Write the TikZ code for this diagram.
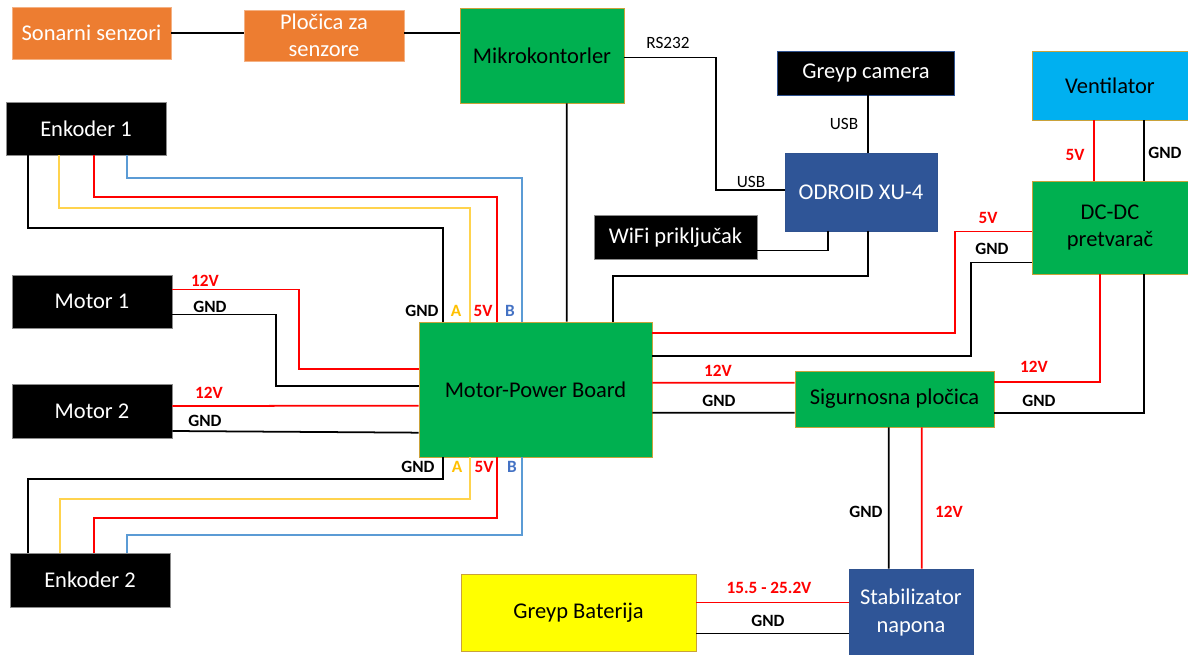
\documentclass[tikz,border=0pt]{standalone}
\usepackage{fontspec}
\setmainfont{Carlito}
\usetikzlibrary{calc}
\definecolor{BoxGreen}{HTML}{00B050}
\definecolor{BoxOrange}{HTML}{ED7D31}
\definecolor{BoxBlue}{HTML}{2F5597}
\definecolor{BoxSky}{HTML}{00B0F0}
\definecolor{BoxYellow}{HTML}{FFFF00}
\definecolor{Rim}{HTML}{C9A23A}
\definecolor{RimOrange}{HTML}{F4B183}
\definecolor{RimBlue}{HTML}{2F528F}
\definecolor{RimGrey}{HTML}{8C8C8C}
\definecolor{WireRed}{HTML}{FF0000}
\definecolor{WireYellow}{HTML}{FFD34D}
\definecolor{WireBlue}{HTML}{5B9BD5}
\definecolor{PinA}{HTML}{FFC000}
\definecolor{PinB}{HTML}{4472C4}

\begin{document}
\begin{tikzpicture}[x=0.02cm, y=-0.02cm,
    box/.style={rectangle, inner sep=0pt, align=center, line width=0.4pt, font=\fontsize{12.8}{15.4}\selectfont},
    gbox/.style={box, fill=BoxGreen, draw=Rim, text=black},
    obox/.style={box, fill=BoxOrange, draw=RimOrange, text=white},
    kbox/.style={box, fill=black, draw=RimGrey, text=white},
    bbox/.style={box, fill=BoxBlue, draw=RimBlue, text=white},
    sbox/.style={box, fill=BoxSky, draw=Rim, text=black},
    ybox/.style={box, fill=BoxYellow, draw=Rim, text=black},
    wblack/.style={draw=black, line width=1pt},
    wred/.style={draw=WireRed, line width=1pt},
    wyellow/.style={draw=WireYellow, line width=1pt},
    wblue/.style={draw=WireBlue, line width=1pt},
    lbl/.style={inner sep=0pt, font=\fontsize{9.8}{11}\selectfont\bfseries},
    tag/.style={inner sep=0pt, font=\fontsize{9.8}{11}\selectfont}
]
    \useasboundingbox (0,0) rectangle (1188,654);

    % Sensors and controller (top)
    \node[obox, minimum width=3.18cm, minimum height=1.04cm] (sonar) at (91.5,33) {Sonarni senzori};
    \node[obox, minimum width=3.2cm, minimum height=1.02cm] (plocica) at (324,35.5) {Pločica za\\senzore};
    \node[gbox, minimum width=3.28cm, minimum height=1.9cm] (mikro) at (542,55.5) {Mikrokontorler};

    % Computer side
    \node[kbox, draw=RimBlue, minimum width=3.54cm, minimum height=0.88cm] (camera) at (866,73) {Greyp camera};
    \node[bbox, minimum width=3.04cm, minimum height=1.56cm] (odroid) at (861,192) {ODROID XU-4};
    \node[kbox, minimum width=3.26cm, minimum height=0.88cm] (wifi) at (675.5,237.5) {WiFi priključak};

    % Fan and converter
    \node[sbox, minimum width=3.12cm, minimum height=1.38cm] (vent) at (1110,85.5) {Ventilator};
    \node[gbox, minimum width=3.12cm, minimum height=1.86cm] (dcdc) at (1110,227.5) {DC-DC\\pretvarač};

    % Motors and encoders (left)
    \node[kbox, minimum width=3.2cm, minimum height=1.06cm] (enk1) at (86,128.5) {Enkoder 1};
    \node[kbox, minimum width=3.2cm, minimum height=1.06cm] (mot1) at (92,301.5) {Motor 1};
    \node[kbox, minimum width=3.2cm, minimum height=1.08cm] (mot2) at (92,411) {Motor 2};
    \node[kbox, minimum width=3.2cm, minimum height=1.08cm] (enk2) at (90,580) {Enkoder 2};

    % Power path
    \node[gbox, minimum width=4.66cm, minimum height=2.7cm] (mpb) at (535.5,389.5) {Motor-Power Board};
    \node[gbox, minimum width=3.98cm, minimum height=1.12cm] (sig) at (894.5,399) {Sigurnosna pločica};
    \node[bbox, minimum width=2.48cm, minimum height=1.74cm] (stab) at (911,612.5) {Stabilizator\\napona};
    \node[ybox, minimum width=4.7cm, minimum height=1.54cm] (bat) at (578.5,612.5) {Greyp Baterija};

    % Sensor chain
    \draw[wblack] (sonar.east) -- (sonar.east -| plocica.west);
    \draw[wblack] (plocica.east |- sonar.east) -- (sonar.east -| mikro.west);
    \draw[wblack] ($(mikro.south west)+(107,0)$) -- ($(mpb.north west)+(148,0)$);

    % Controller to computer
    \draw[wblack] ($(mikro.east)+(0,2)$) -- ++(92,0) |- ($(odroid.west)+(0,-2)$);
    \draw[wblack] ($(odroid.north)+(7,0)$) coordinate (camin) -- (camin |- camera.south);
    \draw[wblack] ($(wifi.east)+(0,13)$) -| ($(odroid.south west)+(43,0)$);
    \draw[wblack] ($(odroid.south west)+(83,0)$) -- ++(0,45) -| ($(mpb.north west)+(194,0)$);
    \node[tag] (trs) at (668,43) {RS232};
    \node[tag] (tusbc) at (844,124) {USB};
    \node[tag] (tusbm) at (751,182) {USB};

    % Encoder 1 wires
    \draw[wblack] ($(enk1.south west)+(22,0)$) -- ++(0,73) -| ($(mpb.north west)+(24,0)$);
    \draw[wyellow] ($(enk1.south west)+(53,0)$) -- ++(0,53) -| ($(mpb.north west)+(51,0)$);
    \draw[wred] ($(enk1.south west)+(88,0)$) -- ++(0,42) -| ($(mpb.north west)+(78,0)$);
    \draw[wblue] ($(enk1.south west)+(121,0)$) -- ++(0,23) -| ($(mpb.north west)+(103,0)$);
    \node[lbl] (pg1) at (422,311) {GND};
    \node[lbl, text=PinA] (pa1) at (456,311) {A};
    \node[lbl, text=WireRed] (pv1) at (483,311) {5V};
    \node[lbl, text=PinB] (pb1) at (510,311) {B};

    % Encoder 2 wires
    \draw[wblack] ($(mpb.south west)+(24,0)$) -- ++(0,22) -| ($(enk2.north west)+(18,0)$);
    \draw[wyellow] ($(mpb.south west)+(51,0)$) -- ++(0,42) -| ($(enk2.north west)+(50,0)$);
    \draw[wred] ($(mpb.south west)+(78,0)$) -- ++(0,61) -| ($(enk2.north west)+(84,0)$);
    \draw[wblue] ($(mpb.south west)+(103,0)$) -- ++(0,78) -| ($(enk2.north west)+(117,0)$);
    \node[lbl] (pg2) at (418,467) {GND};
    \node[lbl, text=PinA] (pa2) at (457,467) {A};
    \node[lbl, text=WireRed] (pv2) at (484,467) {5V};
    \node[lbl, text=PinB] (pb2) at (512,467) {B};

    % Motor wires
    \draw[wred] ($(mot1.east)+(0,-12)$) -- ++(127,0) |- ($(mpb.north west)+(0,47)$);
    \draw[wblack] ($(mot1.east)+(0,13)$) -- ++(104,0) |- ($(mpb.north west)+(0,64)$);
    \draw[wred] ($(mot2.east)+(0,-5)$) -- ($(mpb.north west)+(0,84)$);
    \draw[wblack] ($(mot2.east)+(0,20)$) -- ($(mpb.north west)+(0,111)$);
    \node[lbl, text=WireRed] (m1v) at (205,281) {12V};
    \node[lbl] (m1g) at (210,307) {GND};
    \node[lbl, text=WireRed] (m2v) at (209,393) {12V};
    \node[lbl] (m2g) at (205,421) {GND};

    % Converter wires
    \draw[wred] ($(dcdc.west)+(0,4)$) -- ++(-77,0) |- ($(mpb.north east)+(0,11)$);
    \draw[wblack] ($(dcdc.west)+(0,35)$) -- ++(-61,0) |- ($(mpb.north east)+(0,34)$);
    \draw[wred] ($(vent.south west)+(62,0)$) -- ($(dcdc.north west)+(62,0)$);
    \draw[wblack] ($(vent.south west)+(112,0)$) -- ($(dcdc.north west)+(112,0)$);
    \node[lbl, text=WireRed] (dv) at (988,218) {5V};
    \node[lbl] (dg) at (992,249) {GND};
    \node[lbl, text=WireRed] (vv) at (1075,155) {5V};
    \node[lbl] (vg) at (1165,153) {GND};

    % Safety board wires
    \draw[wred] ($(mpb.north east)+(0,61)$) -- ($(sig.north west)+(0,12)$);
    \draw[wblack] ($(mpb.north east)+(0,91)$) -- ($(sig.north west)+(0,42)$);
    \draw[wred] ($(sig.north east)+(0,11)$) -| ($(dcdc.south west)+(68,0)$);
    \draw[wblack] ($(sig.north east)+(0,42)$) -| ($(dcdc.south west)+(112,0)$);
    \node[lbl, text=WireRed] (sv1) at (718,371) {12V};
    \node[lbl] (sg1) at (719,401) {GND};
    \node[lbl, text=WireRed] (sv2) at (1034,367) {12V};
    \node[lbl] (sg2) at (1039,401) {GND};

    % Stabilizer and battery
    \draw[wblack] ($(stab.north west)+(40,0)$) -- ($(sig.south west)+(94,0)$);
    \draw[wred] ($(stab.north west)+(73,0)$) -- ($(sig.south west)+(127,0)$);
    \draw[wred] ($(bat.east)+(0,-10)$) -- ($(stab.west)+(0,-10)$);
    \draw[wblack] ($(bat.east)+(0,21)$) -- ($(stab.west)+(0,21)$);
    \node[lbl] (tg) at (866,512) {GND};
    \node[lbl, text=WireRed] (tv) at (949,512) {12V};
    \node[lbl, text=WireRed] (bv) at (769,588) {15.5 - 25.2V};
    \node[lbl] (bg) at (768,621) {GND};
\end{tikzpicture}
\end{document}
